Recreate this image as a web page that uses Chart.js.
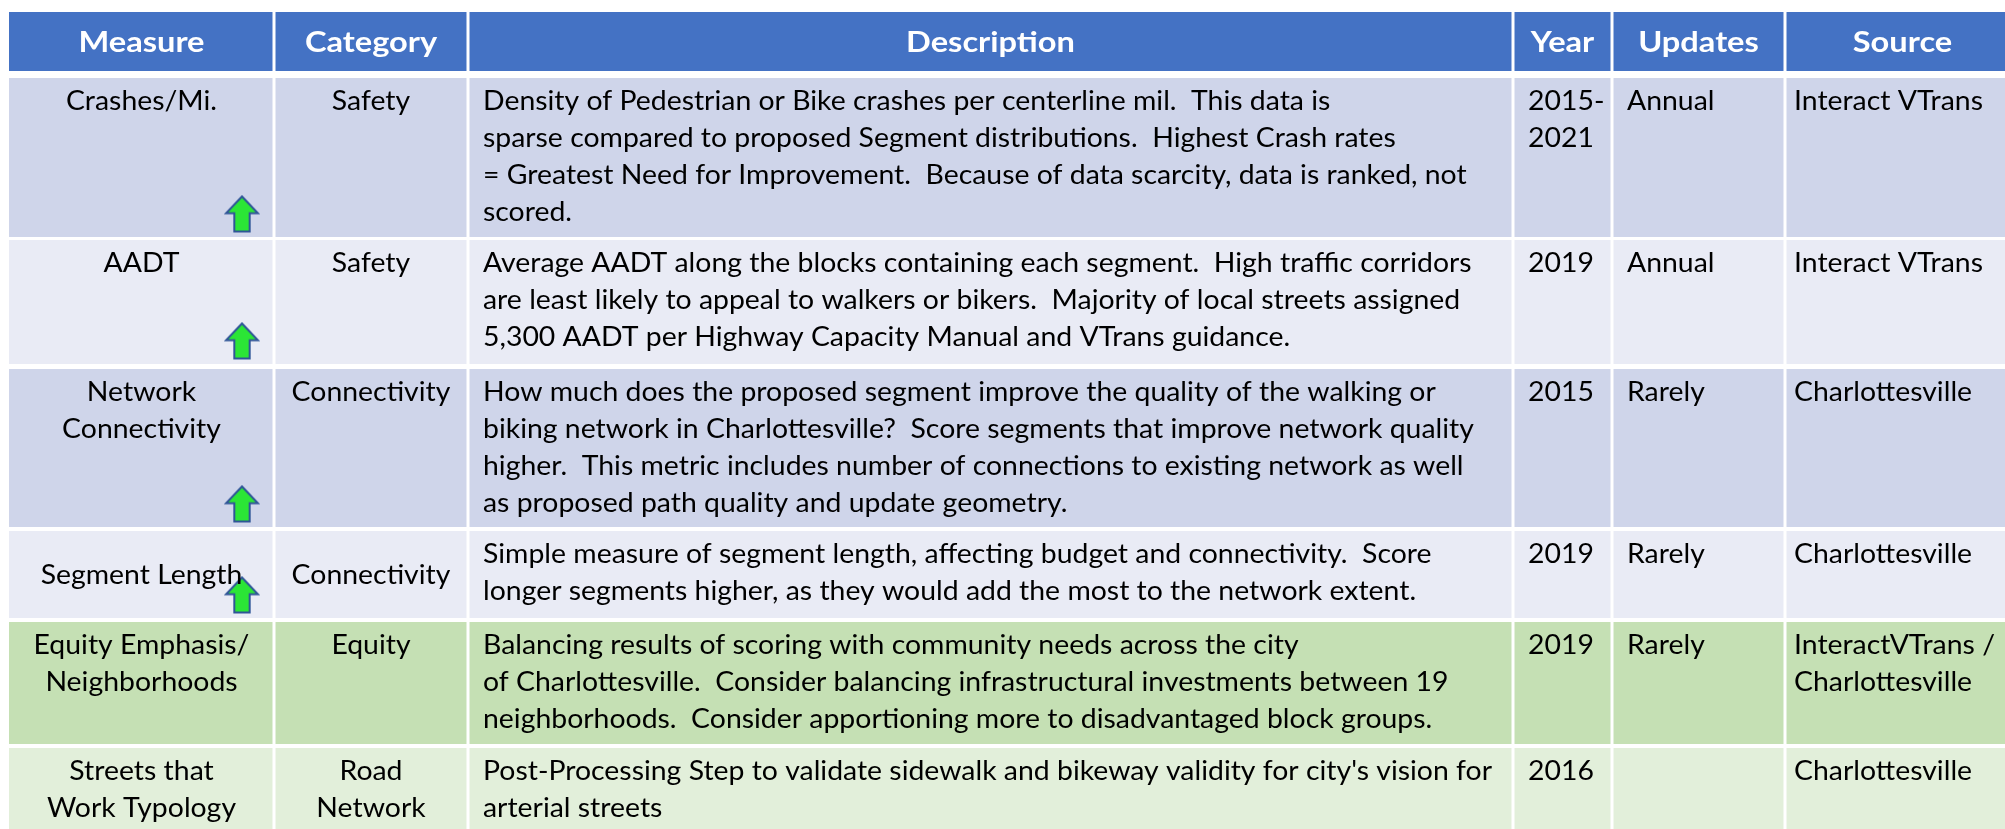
<!DOCTYPE html>
<html>
<head>
<meta charset="utf-8">
<script src="https://cdn.jsdelivr.net/npm/chart.js@4.4.1/dist/chart.umd.min.js"></script>
<style>
    html, body { margin: 0; padding: 0; background: #fff; overflow: hidden; }
    #wrap { width: 2005px; height: 829px; }
</style>
</head>
<body>
<div id="wrap"><canvas id="measures-table" width="2005" height="829"></canvas></div>
<script>
// table content
const headers = ['Measure', 'Category', 'Description', 'Year', 'Updates', 'Source'];
const measures = [['Crashes/Mi.'], ['AADT'], ['Network', 'Connectivity'], ['Segment Length'], ['Equity Emphasis/', 'Neighborhoods'], ['Streets that', 'Work Typology']];
const categories = [['Safety'], ['Safety'], ['Connectivity'], ['Connectivity'], ['Equity'], ['Road', 'Network']];
const descriptions = [
    ['Density of Pedestrian or Bike crashes per centerline mil.  This data is',
        'sparse compared to proposed Segment distributions.  Highest Crash rates',
        '= Greatest Need for Improvement.  Because of data scarcity, data is ranked, not',
        'scored.'],
    ['Average AADT along the blocks containing each segment.  High traffic corridors',
        'are least likely to appeal to walkers or bikers.  Majority of local streets assigned',
        '5,300 AADT per Highway Capacity Manual and VTrans guidance.'],
    ['How much does the proposed segment improve the quality of the walking or',
        'biking network in Charlottesville?  Score segments that improve network quality',
        'higher.  This metric includes number of connections to existing network as well',
        'as proposed path quality and update geometry.'],
    ['Simple measure of segment length, affecting budget and connectivity.  Score',
        'longer segments higher, as they would add the most to the network extent.'],
    ['Balancing results of scoring with community needs across the city',
        'of Charlottesville.  Consider balancing infrastructural investments between 19',
        'neighborhoods.  Consider apportioning more to disadvantaged block groups.'],
    ["Post-Processing Step to validate sidewalk and bikeway validity for city's vision for",
        'arterial streets']
];
const years = [['2015-', '2021'], ['2019'], ['2015'], ['2019'], ['2019'], ['2016']];
const updates = [['Annual'], ['Annual'], ['Rarely'], ['Rarely'], ['Rarely'], []];
const sources = [['Interact VTrans'], ['Interact VTrans'], ['Charlottesville'], ['Charlottesville'], ['InteractVTrans /', 'Charlottesville'], ['Charlottesville']];
const scoredHigher = [true, true, true, true, false, false];

// layout (chart units = px)
const W = 2005, H = 829;
const colEdges = [9, 274, 468, 1513, 1612, 1785, 2020];
const colAlign = ['center', 'center', 'left', 'left', 'left', 'left'];
const colPad = [0, 0, 15, 15, 15, 9];
const headerBand = [12, 71];
const rowBands = [[78, 237], [240, 364], [369, 527], [531, 618], [622, 744], [748, 835]];
const labelValign = ['top', 'top', 'top', 'middle', 'top', 'top'];

// styles
const headerColor = '#4472C4';
const rowColors = ['#CFD5EA', '#E9EBF5', '#CFD5EA', '#E9EBF5', '#C5E0B4', '#E2EFDA'];
const bodyFont = '26px Lato';
const headFont = 'bold 29px Lato';

function makeArrow(w, h) {
    const c = document.createElement('canvas');
    c.width = w + 4;
    c.height = h + 4;
    const g = c.getContext('2d');
    const x0 = 2, y0 = 2, head = h * 0.48, shaft = w * 0.48;
    g.beginPath();
    g.moveTo(x0 + w / 2, y0);
    g.lineTo(x0 + w, y0 + head);
    g.lineTo(x0 + w / 2 + shaft / 2, y0 + head);
    g.lineTo(x0 + w / 2 + shaft / 2, y0 + h);
    g.lineTo(x0 + w / 2 - shaft / 2, y0 + h);
    g.lineTo(x0 + w / 2 - shaft / 2, y0 + head);
    g.lineTo(x0, y0 + head);
    g.closePath();
    g.fillStyle = '#2BE536';
    g.fill();
    g.lineWidth = 2;
    g.strokeStyle = '#2F5597';
    g.stroke();
    return c;
}

function drawLine(ctx, text, px, py, align, k) {
    ctx.save();
    ctx.translate(px, py);
    ctx.scale(k, 1);
    ctx.textAlign = align;
    ctx.fillText(text, 0, 0);
    ctx.restore();
}

const tableText = {
    id: 'tableText',
    afterDatasetsDraw(chart) {
        const { ctx, scales: { x, y } } = chart;
        ctx.save();
        ctx.textBaseline = 'alphabetic';

        // header
        ctx.font = headFont;
        ctx.fillStyle = '#fff';
        const kh = 126 / ctx.measureText('Measure').width;
        const hy = y.getPixelForValue((headerBand[0] + headerBand[1]) / 2 + 10);
        headers.forEach((h, c) => {
            const cx = x.getPixelForValue((colEdges[c] + colEdges[c + 1]) / 2);
            drawLine(ctx, h, cx, hy, 'center', kh);
        });

        // body
        ctx.font = bodyFont;
        ctx.fillStyle = '#000';
        const kb = 1009 / ctx.measureText(descriptions[5][0]).width;
        const columns = [measures, categories, descriptions, years, updates, sources];
        rowBands.forEach((band, r) => {
            columns.forEach((col, c) => {
                const lines = col[r];
                const middle = c < 2 && labelValign[r] === 'middle';
                lines.forEach((t, i) => {
                    let by;
                    if (middle) by = (band[0] + band[1]) / 2 + (i - (lines.length - 1) / 2) * 37 + 9;
                    else by = band[0] + 32 + i * 37;
                    let px;
                    if (colAlign[c] === 'center') px = x.getPixelForValue((colEdges[c] + colEdges[c + 1]) / 2);
                    else px = x.getPixelForValue(colEdges[c] + colPad[c]);
                    drawLine(ctx, t, px, y.getPixelForValue(by), colAlign[c], kb);
                });
            });
        });
        ctx.restore();
    }
};

function buildChart() {
    const tableLeft = colEdges[0], tableRight = colEdges[colEdges.length - 1];
    const bands = [headerBand, ...rowBands].map((b, i) => ({
        type: 'line',
        data: [{ x: tableLeft, y: b[0] }, { x: tableRight, y: b[0] }],
        fill: { value: b[1] },
        backgroundColor: i === 0 ? headerColor : rowColors[i - 1],
        borderWidth: 0,
        pointRadius: 0,
        order: 3
    }));
    const bottom = rowBands[rowBands.length - 1][1];
    const separators = colEdges.slice(1, -1).map(e => ({
        type: 'line',
        data: [{ x: e, y: headerBand[0] }, { x: e, y: bottom }],
        borderColor: '#fff',
        borderWidth: 3,
        pointRadius: 0,
        fill: false,
        order: 2
    }));
    const arrowX = colEdges[1] - 32;
    const arrows = {
        type: 'scatter',
        data: rowBands.map((b, r) => scoredHigher[r] ? { x: arrowX, y: b[1] - 23 } : null).filter(p => p),
        pointStyle: makeArrow(32, 35),
        pointRadius: 10,
        showLine: false,
        order: 1
    };

    new Chart(document.getElementById('measures-table'), {
        type: 'scatter',
        data: { datasets: [...bands, ...separators, arrows] },
        options: {
            responsive: false,
            animation: false,
            events: [],
            layout: { padding: 0, autoPadding: false },
            scales: {
                x: { type: 'linear', min: 0, max: W, display: false },
                y: { type: 'linear', min: 0, max: H, reverse: true, display: false }
            },
            plugins: {
                legend: { display: false },
                tooltip: { enabled: false }
            }
        },
        plugins: [tableText]
    });
}

Promise.all([document.fonts.load(bodyFont), document.fonts.load(headFont)])
    .then(buildChart, buildChart);
</script>
</body>
</html>
